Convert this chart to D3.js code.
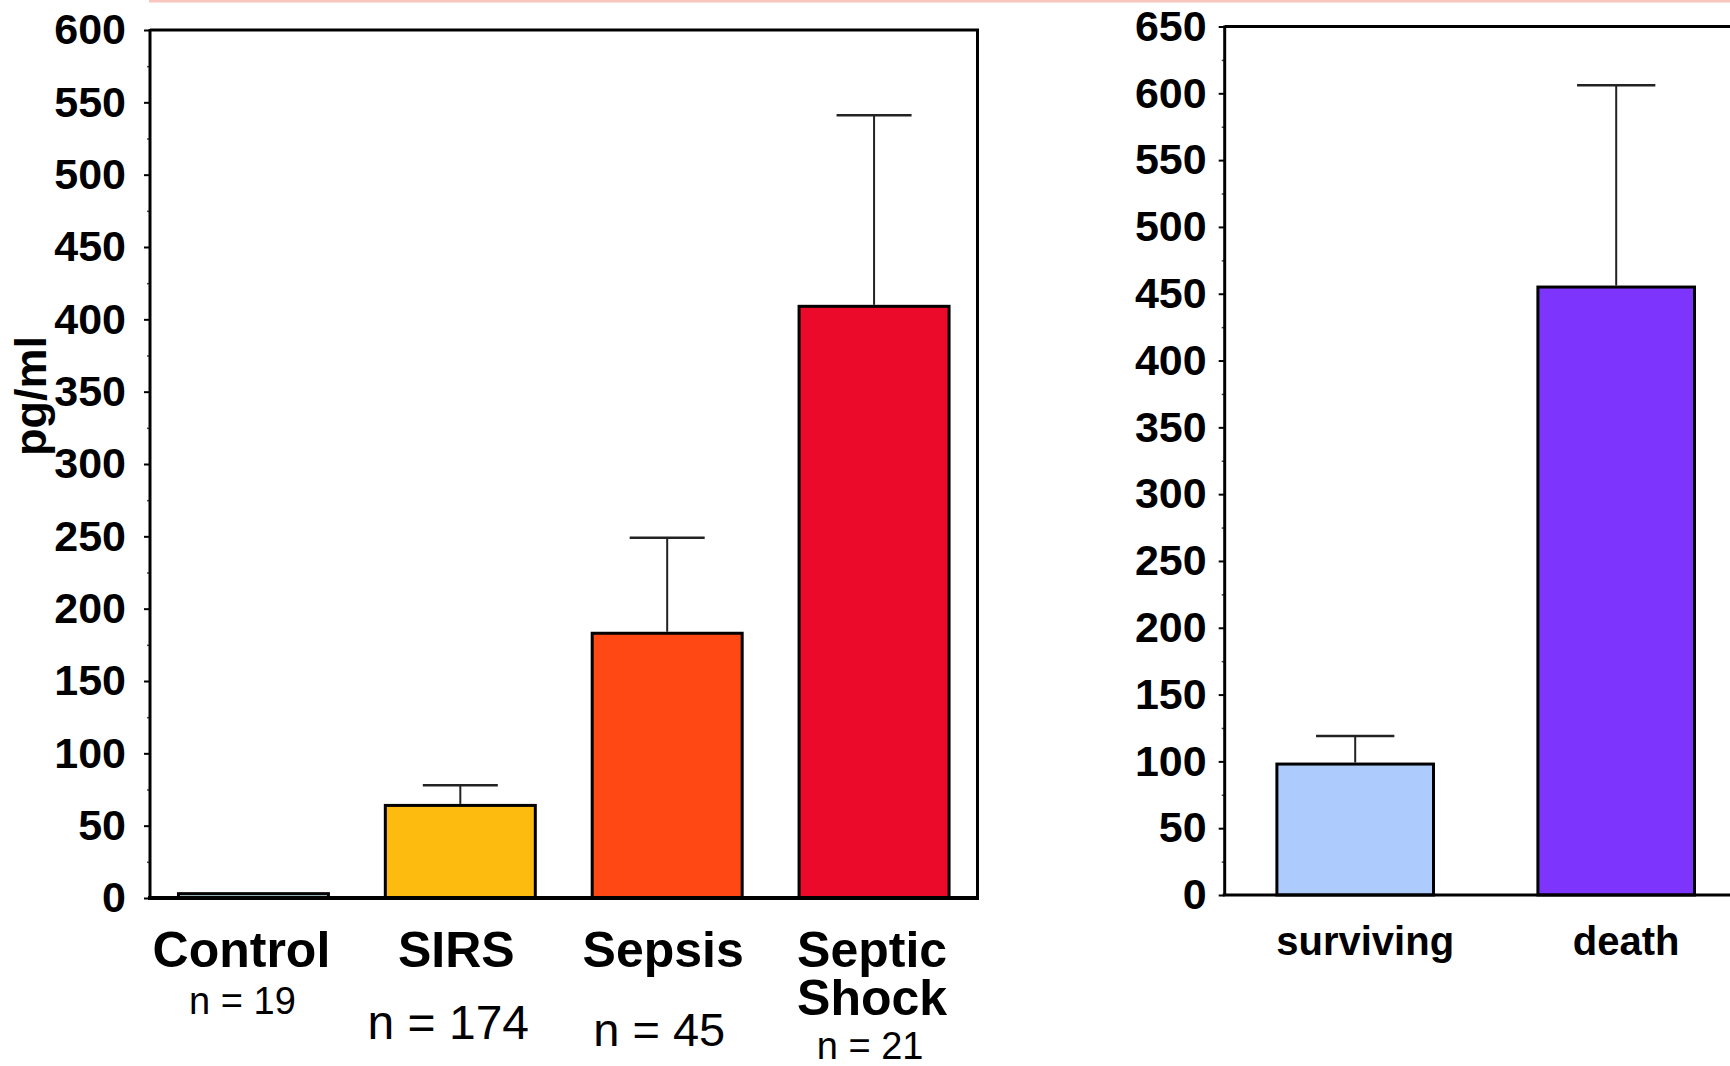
<!DOCTYPE html>
<html>
<head>
<meta charset="utf-8">
<script src="https://cdn.jsdelivr.net/npm/d3@7"></script>
<style>
  html, body { margin: 0; padding: 0; background: #fff; }
  svg { display: block; font-family: "Liberation Sans", Arial, sans-serif; }
</style>
</head>
<body>
<svg id="chart" width="1730" height="1066"></svg>
<script>
// ---------- data ----------
const leftCategories = ["Control", "SIRS", "Sepsis", "Septic Shock"];
const leftMeans = [3, 64, 183, 409];
const leftUpper = [3, 78, 249, 541];
const leftCounts = ["n = 19", "n = 174", "n = 45", "n = 21"];
const leftTicks = [0, 50, 100, 150, 200, 250, 300, 350, 400, 450, 500, 550, 600];

const rightCategories = ["surviving", "death"];
const rightMeans = [98, 455];
const rightUpper = [119, 606];
const rightTicks = [0, 50, 100, 150, 200, 250, 300, 350, 400, 450, 500, 550, 600, 650];

const yLabel = "pg/ml";

// ---------- styles ----------
const leftColors = ["#a9cfd0", "#fdbb10", "#ff4814", "#ec0a2b"];
const rightColors = ["#adcbfd", "#7d35fd"];
const catLabelDx = [-12, -4, -4, -2];
const countStyle = [
  { size: 38, y: 1014, dx: -11 },
  { size: 48, y: 1039, dx: -12 },
  { size: 47, y: 1046, dx: -8 },
  { size: 38, y: 1059, dx: -4 }
];

const svg = d3.select("#chart");

// top pink rule
svg.append("line")
  .attr("x1", 149).attr("x2", 1730).attr("y1", 1).attr("y2", 1)
  .attr("stroke", "#f9c6bd").attr("stroke-width", 3);

function drawPanel(opts) {
  const { x0, x1, yTop, yBot, cats, means, upper, colors, ticks, yMax,
          padInner, padOuter, boxRight, tickPad } = opts;
  const g = svg.append("g");
  const x = d3.scaleBand().domain(cats).range([x0, x1])
    .paddingInner(padInner).paddingOuter(padOuter);
  const y = d3.scaleLinear().domain([0, yMax]).range([yBot, yTop]);

  // minor ticks
  const minor = d3.range(25, yMax, 50);
  const minorAxis = g.append("g").attr("transform", `translate(${x0},0)`)
    .call(d3.axisLeft(y).tickValues(minor).tickSize(3).tickFormat(""));
  minorAxis.select(".domain").remove();
  minorAxis.selectAll("line").attr("stroke", "#444").attr("stroke-width", 1.5);

  // major axis
  const ax = g.append("g").attr("transform", `translate(${x0},0)`)
    .call(d3.axisLeft(y).tickValues(ticks).tickSize(6).tickPadding(tickPad));
  ax.select(".domain").remove();
  ax.selectAll("line").attr("stroke", "#000").attr("stroke-width", 2);
  ax.selectAll("text")
    .attr("font-size", 43).attr("font-weight", "bold").attr("fill", "#000")
    .attr("font-family", "'Liberation Sans', Arial, sans-serif");

  // frame
  g.append("line").attr("x1", x0).attr("x2", x0).attr("y1", yTop - 1).attr("y2", yBot)
    .attr("stroke", "#000").attr("stroke-width", 3);
  g.append("line").attr("x1", x0).attr("x2", boxRight ? x1 + 1.5 : 1730).attr("y1", yTop).attr("y2", yTop)
    .attr("stroke", "#000").attr("stroke-width", 3);
  if (boxRight) {
    g.append("line").attr("x1", x1).attr("x2", x1).attr("y1", yTop).attr("y2", yBot)
      .attr("stroke", "#000").attr("stroke-width", 3);
  }

  // bars
  g.selectAll("rect.bar").data(cats).join("rect")
    .attr("class", "bar")
    .attr("x", d => x(d))
    .attr("width", x.bandwidth())
    .attr("y", (d, i) => y(means[i]))
    .attr("height", (d, i) => y(0) - y(means[i]))
    .attr("fill", (d, i) => colors[i])
    .attr("stroke", "#000").attr("stroke-width", 3);

  // error bars
  cats.forEach((c, i) => {
    if (upper[i] <= means[i]) return;
    const cx = x(c) + x.bandwidth() / 2;
    const cw = x.bandwidth() * 0.25;
    g.append("line").attr("x1", cx).attr("x2", cx)
      .attr("y1", y(means[i]) - 1.5).attr("y2", y(upper[i]))
      .attr("stroke", "#222").attr("stroke-width", 2);
    g.append("line").attr("x1", cx - cw).attr("x2", cx + cw)
      .attr("y1", y(upper[i])).attr("y2", y(upper[i]))
      .attr("stroke", "#222").attr("stroke-width", 2.5);
  });

  // baseline
  g.append("line").attr("x1", x0 - 2).attr("x2", boxRight ? x1 + 1.5 : 1730)
    .attr("y1", yBot).attr("y2", yBot)
    .attr("stroke", "#000").attr("stroke-width", boxRight ? 4 : 3);

  return { x, y, g };
}

// ---------- left panel ----------
const L = drawPanel({
  x0: 150, x1: 977.5, yTop: 30, yBot: 898,
  cats: leftCategories, means: leftMeans, upper: leftUpper, colors: leftColors,
  ticks: leftTicks, yMax: 600, padInner: 0.275, padOuter: 0.1375,
  boxRight: true, tickPad: 18
});

leftCategories.forEach((c, i) => {
  const cx = L.x(c) + L.x.bandwidth() / 2 + catLabelDx[i];
  const words = c.split(" ");
  const t = svg.append("text")
    .attr("x", cx).attr("y", 967)
    .attr("text-anchor", "middle")
    .attr("font-size", 50).attr("font-weight", "bold").attr("fill", "#000");
  words.forEach((w, k) => {
    t.append("tspan").attr("x", cx).attr("dy", k === 0 ? 0 : 48).text(w);
  });
  svg.append("text")
    .attr("x", L.x(c) + L.x.bandwidth() / 2 + countStyle[i].dx).attr("y", countStyle[i].y)
    .attr("text-anchor", "middle")
    .attr("font-size", countStyle[i].size).attr("fill", "#000")
    .text(leftCounts[i]);
});

// y label
svg.append("text")
  .attr("transform", "translate(46,396) rotate(-90)")
  .attr("text-anchor", "middle")
  .attr("font-size", 45).attr("font-weight", "bold").attr("fill", "#000")
  .text(yLabel);

// ---------- right panel ----------
const R = drawPanel({
  x0: 1224.7, x1: 1746.7, yTop: 26.5, yBot: 895,
  cats: rightCategories, means: rightMeans, upper: rightUpper, colors: rightColors,
  ticks: rightTicks, yMax: 650, padInner: 0.4, padOuter: 0.2,
  boxRight: false, tickPad: 12
});

rightCategories.forEach((c, i) => {
  const cx = R.x(c) + R.x.bandwidth() / 2;
  svg.append("text")
    .attr("x", cx + 10).attr("y", 955)
    .attr("text-anchor", "middle")
    .attr("font-size", 40).attr("font-weight", "bold").attr("fill", "#000")
    .text(c);
});
</script>
</body>
</html>
